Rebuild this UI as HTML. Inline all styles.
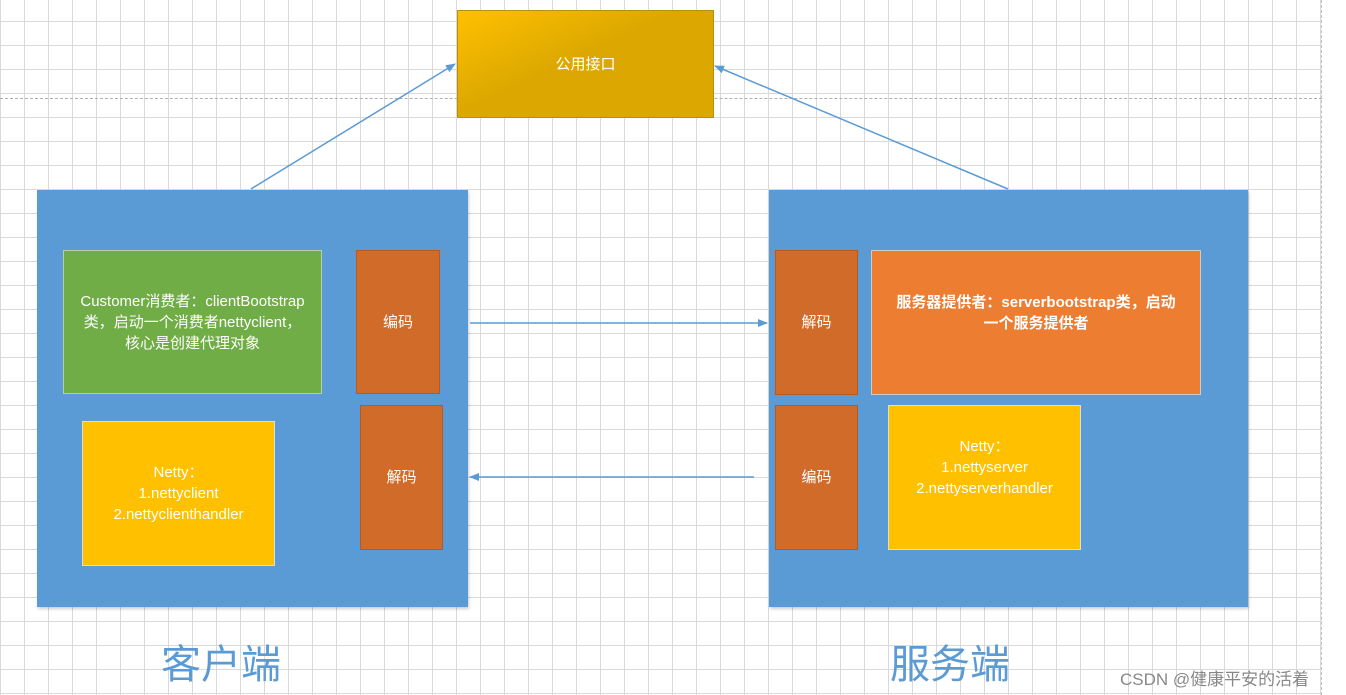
<!DOCTYPE html>
<html><head><meta charset="utf-8"><style>
body{margin:0;width:1346px;height:695px;overflow:hidden;background:#fff;position:relative;font-family:"Liberation Sans","Noto Sans CJK SC",sans-serif}
.grid{position:absolute;left:0;top:0;width:1322px;height:695px;
background-image:linear-gradient(to right,#d9d9d9 1px,transparent 1px),linear-gradient(to bottom,#d9d9d9 1px,transparent 1px);
background-size:24px 24px;background-position:0 21px}
.b{position:absolute;box-sizing:border-box;display:flex;align-items:center;justify-content:center;text-align:center;color:#fff;font-size:15px;line-height:21px}
.panel{background:#5b9bd5;box-shadow:1px 2px 3px rgba(0,0,0,.2)}
.or{background:#d06b2a;border:1px solid #b85a20}
.t{position:absolute;color:#5b9bd5;font-size:40px;font-family:"Noto Sans CJK SC",sans-serif}
</style></head><body>
<div class="grid"></div>
<div style="position:absolute;left:0;top:98px;width:1322px;border-top:1px dashed #b0b0b0"></div>
<div style="position:absolute;left:1321px;top:0;height:695px;border-left:1px dashed #c0c0c0"></div>
<div class="b" style="left:457px;top:10px;width:257px;height:108px;background:linear-gradient(155deg,#ffc000 0%,#dca800 45%,#dca800 100%);border:1px solid #b8900a">公用接口</div>
<div class="b panel" style="left:37px;top:190px;width:431px;height:417px"></div>
<div class="b panel" style="left:769px;top:190px;width:479px;height:417px"></div>
<div class="b" style="left:63px;top:250px;width:259px;height:144px;background:#70ad47;border:1px solid #b7cfa5">Customer消费者：clientBootstrap<br>类，启动一个消费者nettyclient，<br>核心是创建代理对象</div>
<div class="b or" style="left:356px;top:250px;width:84px;height:144px">编码</div>
<div class="b or" style="left:360px;top:405px;width:83px;height:145px">解码</div>
<div class="b" style="left:82px;top:421px;width:193px;height:145px;background:#ffc000;border:1px solid #ddd">Netty：<br>1.nettyclient<br>2.nettyclienthandler</div>
<div class="b or" style="left:775px;top:250px;width:83px;height:145px">解码</div>
<div class="b or" style="left:775px;top:405px;width:83px;height:145px">编码</div>
<div class="b" style="left:871px;top:250px;width:330px;height:145px;background:#ed7d31;border:1px solid #ccc;font-weight:bold;padding-bottom:20px">服务器提供者：serverbootstrap类，启动<br>一个服务提供者</div>
<div class="b" style="left:888px;top:405px;width:193px;height:145px;background:#ffc000;border:1px solid #ddd;padding-bottom:20px">Netty：<br>1.nettyserver<br>2.nettyserverhandler</div>
<svg style="position:absolute;left:0;top:0" width="1346" height="695">
<defs><marker id="a" markerWidth="10" markerHeight="8" refX="9" refY="4" orient="auto" markerUnits="userSpaceOnUse"><path d="M0,0L10,4L0,8z" fill="#5b9bd5"/></marker></defs>
<g stroke="#5b9bd5" stroke-width="1.5" fill="none" marker-end="url(#a)">
<line x1="251" y1="189" x2="455" y2="64"/>
<line x1="1008" y1="189" x2="715" y2="66"/>
<line x1="470" y1="323" x2="767" y2="323"/>
<line x1="754" y1="477" x2="470" y2="477"/>
</g></svg>
<div class="t" style="left:161px;top:632px">客户端</div>
<div class="t" style="left:890px;top:632px">服务端</div>
<div style="position:absolute;left:1120px;top:665px;font-size:17px;color:#888">CSDN @健康平安的活着</div>
</body></html>
